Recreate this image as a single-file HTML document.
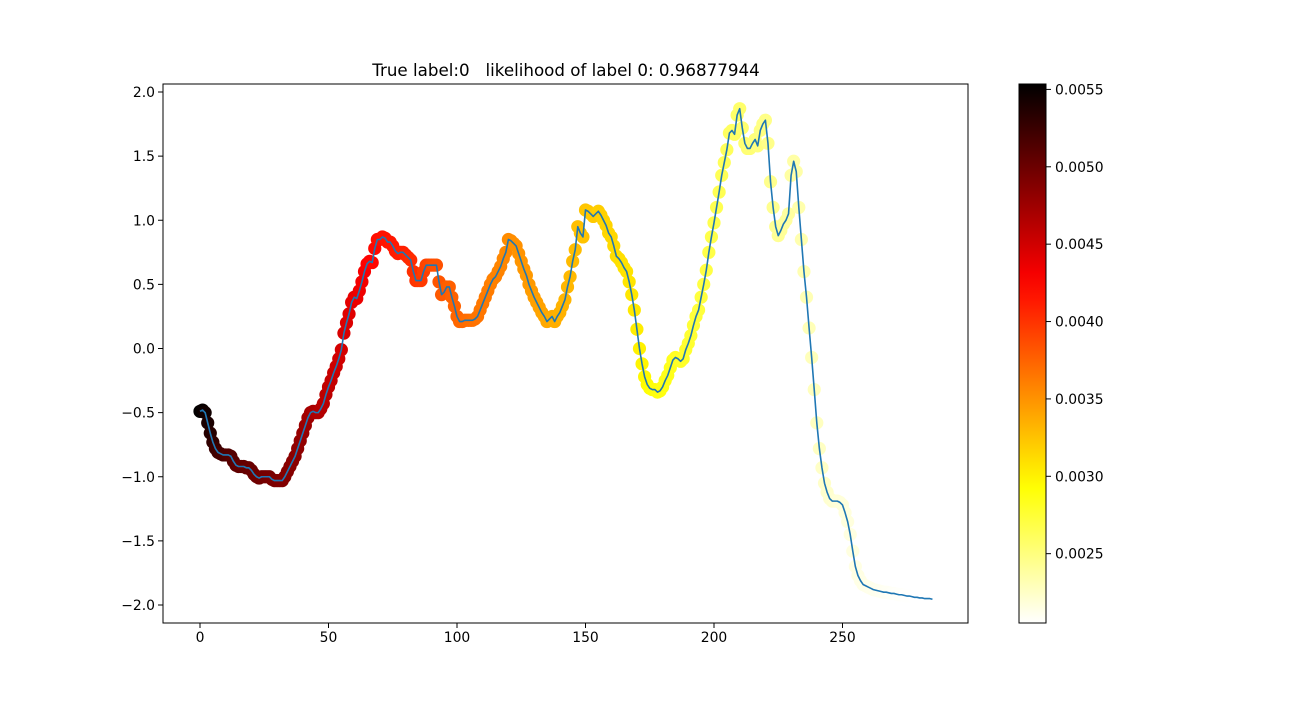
<!DOCTYPE html>
<html><head><meta charset="utf-8"><style>
body{margin:0;background:#fff;}
svg text{font-family:"DejaVu Sans","Liberation Sans",sans-serif;}
</style></head><body>
<svg id="chart" width="1300" height="700" xmlns="http://www.w3.org/2000/svg">
<defs><linearGradient id="cbgrad" x1="0" y1="1" x2="0" y2="0"></linearGradient>
<clipPath id="plotclip"><rect x="163" y="84" width="805" height="539"/></clipPath></defs>
<rect width="1300" height="700" fill="#fff"/>
<text x="566" y="76" font-size="16.7" text-anchor="middle" xml:space="preserve">True label:0   likelihood of label 0: 0.96877944</text>
<g id="scatter" clip-path="url(#plotclip)"></g>
<g id="line" clip-path="url(#plotclip)"></g>
<rect x="163" y="84" width="805" height="539" fill="none" stroke="#000" stroke-width="1"/>
<g id="xaxis"></g><g id="yaxis"></g>
<rect id="cbar" x="1019" y="84" width="27" height="539" fill="url(#cbgrad)" stroke="#000" stroke-width="1"/>
<g id="cbaxis"></g>
</svg>
<script>
const xTicks=[0,50,100,150,200,250];
const yTicks=[-2.0,-1.5,-1.0,-0.5,0.0,0.5,1.0,1.5,2.0];
const cbTicks=[0.0025,0.0030,0.0035,0.0040,0.0045,0.0050,0.0055];
const values=[-0.49,-0.48,-0.5,-0.58,-0.66,-0.73,-0.78,-0.81,-0.82,-0.83,
-0.83,-0.83,-0.84,-0.88,-0.91,-0.92,-0.92,-0.92,-0.93,-0.93,
-0.95,-0.98,-1.0,-1.01,-1.0,-1.0,-1.0,-1.0,-1.02,-1.03,
-1.03,-1.03,-1.03,-1.0,-0.96,-0.92,-0.88,-0.84,-0.78,-0.72,
-0.66,-0.6,-0.54,-0.5,-0.49,-0.5,-0.5,-0.47,-0.43,-0.36,
-0.3,-0.25,-0.19,-0.14,-0.08,-0.01,0.12,0.2,0.27,0.36,
0.4,0.39,0.45,0.52,0.6,0.66,0.68,0.67,0.78,0.85,
0.85,0.87,0.86,0.83,0.83,0.8,0.76,0.74,0.75,0.75,
0.73,0.71,0.69,0.6,0.53,0.53,0.53,0.6,0.65,0.65,
0.65,0.65,0.65,0.52,0.42,0.44,0.48,0.48,0.4,0.33,
0.25,0.21,0.21,0.22,0.22,0.22,0.22,0.23,0.25,0.3,
0.35,0.4,0.45,0.5,0.54,0.56,0.6,0.64,0.7,0.75,
0.85,0.84,0.82,0.8,0.74,0.68,0.62,0.57,0.5,0.45,
0.4,0.36,0.32,0.28,0.25,0.21,0.23,0.25,0.21,0.25,
0.28,0.33,0.38,0.48,0.56,0.68,0.77,0.95,0.9,0.87,
1.08,1.07,1.05,1.03,1.05,1.07,1.04,1.0,0.96,0.9,
0.87,0.8,0.72,0.7,0.67,0.63,0.6,0.52,0.42,0.3,
0.15,0.0,-0.12,-0.22,-0.28,-0.31,-0.32,-0.32,-0.34,-0.33,
-0.3,-0.25,-0.21,-0.15,-0.09,-0.07,-0.08,-0.1,-0.08,-0.01,
0.04,0.1,0.18,0.25,0.3,0.4,0.5,0.61,0.75,0.87,
0.98,1.1,1.22,1.35,1.45,1.55,1.68,1.7,1.67,1.82,
1.87,1.72,1.6,1.56,1.56,1.6,1.63,1.58,1.7,1.75,
1.78,1.6,1.3,1.1,0.95,0.88,0.92,0.97,1.0,1.05,
1.35,1.46,1.38,1.1,0.85,0.6,0.4,0.16,-0.07,-0.32,
-0.58,-0.78,-0.93,-1.05,-1.12,-1.17,-1.19,-1.19,-1.19,-1.2,
-1.22,-1.28,-1.35,-1.45,-1.58,-1.7,-1.77,-1.81,-1.84,-1.85,
-1.86,-1.87,-1.88,-1.885,-1.89,-1.895,-1.9,-1.9,-1.905,-1.91,
-1.91,-1.915,-1.92,-1.92,-1.925,-1.93,-1.93,-1.935,-1.94,-1.94,
-1.945,-1.945,-1.95,-1.95,-1.95,-1.955];
const weights=[.00553,.00550,.00545,.00540,.00535,.00530,.00525,.00522,.00520,.00518,
.00516,.00514,.00512,.00510,.00508,.00506,.00505,.00504,.00503,.00502,
.00501,.00500,.00499,.00498,.00497,.00496,.00495,.00494,.00493,.00492,
.00491,.00490,.00489,.00488,.00487,.00486,.00485,.00484,.00482,.00480,
.00478,.00476,.00474,.00472,.00470,.00468,.00466,.00464,.00462,.00460,
.00458,.00456,.00454,.00452,.00450,.00448,.00446,.00444,.00442,.00440,
.00438,.00436,.00434,.00432,.00430,.00428,.00426,.00424,.00422,.00420,
.00419,.00418,.00417,.00416,.00415,.00414,.00413,.00412,.00411,.00410,
.00408,.00406,.00404,.00402,.00400,.00398,.00396,.00394,.00392,.00390,
.00388,.00386,.00384,.00382,.00380,.00379,.00378,.00377,.00376,.00375,
.00374,.00373,.00372,.00371,.00370,.00369,.00368,.00367,.00366,.00365,
.00364,.00363,.00362,.00361,.00360,.00359,.00358,.00357,.00356,.00355,
.00354,.00353,.00352,.00351,.00350,.00349,.00348,.00347,.00346,.00345,
.00344,.00343,.00342,.00341,.00340,.00339,.00338,.00337,.00336,.00335,
.00334,.00333,.00332,.00331,.00330,.00329,.00328,.00327,.00326,.00325,
.00324,.00323,.00322,.00321,.00320,.00319,.00318,.00317,.00316,.00315,
.00314,.00313,.00312,.00311,.00310,.00309,.00308,.00307,.00306,.00305,
.00303,.00301,.00299,.00297,.00295,.00293,.00291,.00290,.00289,.00288,
.00287,.00286,.00285,.00284,.00283,.00282,.00281,.00280,.00279,.00278,
.00277,.00276,.00275,.00274,.00273,.00272,.00271,.00270,.00269,.00268,
.00267,.00266,.00265,.00264,.00263,.00262,.00261,.00260,.00259,.00258,
.00257,.00256,.00255,.00254,.00253,.00252,.00251,.00250,.00249,.00248,
.00247,.00246,.00245,.00244,.00243,.00242,.00241,.00240,.00239,.00238,
.00237,.00236,.00235,.00234,.00233,.00232,.00231,.00230,.00229,.00228,
.00227,.00226,.00225,.00224,.00223,.00222,.00221,.00220,.00219,.00218,
.00218,.00217,.00217,.00216,.00216,.00215,.00215,.00214,.00214,.00213,
.00213,.00212,.00212,.00211,.00211,.00210,.00210,.00209,.00209,.00208,
.00208,.00207,.00207,.00207,.00206,.00206,.00206,.00206,.00205,.00205,
.00205,.00205,.00205,.00205,.00205,.00205];
const cMin=0.002052, cMax=0.005535;

const NS="http://www.w3.org/2000/svg";
function xS(v){return 200+v*(128.5/50);}
function yS(v){return 348.5-v*128.25;}
function cS(v){return 623-(v-cMin)/(cMax-cMin)*539;}
function clamp(a){return Math.max(0,Math.min(1,a));}
function hotR(w){const t=1-clamp((w-cMin)/(cMax-cMin));
 const r=clamp(t/0.365),g=clamp((t-0.365)/0.381),b=clamp((t-0.746)/0.254);
 return `rgb(${Math.round(r*255)},${Math.round(g*255)},${Math.round(b*255)})`;}
function mk(tag,attrs,parent){const e=document.createElementNS(NS,tag);for(const k in attrs)e.setAttribute(k,attrs[k]);parent.appendChild(e);return e;}

const sc=document.getElementById('scatter');
values.forEach((v,i)=>{
 const c=mk('circle',{cx:xS(i),cy:yS(v),r:6.6,fill:hotR(weights[i])},sc);
 
 
});
const ln=document.getElementById('line');
const p=mk('path',{d:values.map((v,i)=>(i?'L':'M')+xS(i).toFixed(2)+','+yS(v).toFixed(2)).join(''),fill:'none',stroke:'#1f77b4','stroke-width':1.6,'stroke-linejoin':'round'},ln);



const xa=document.getElementById('xaxis');
xTicks.forEach(t=>{
 const l=mk('line',{x1:xS(t),x2:xS(t),y1:623,y2:628,stroke:'#000'},xa);
 
 
 const tx=mk('text',{x:xS(t),y:642,'font-size':13.9,'text-anchor':'middle'},xa);
 tx.textContent=String(t);
 
 
});
const ya=document.getElementById('yaxis');
yTicks.forEach(t=>{
 const l=mk('line',{x1:158,x2:163,y1:yS(t),y2:yS(t),stroke:'#000'},ya);
 
 
 const tx=mk('text',{x:155,y:yS(t)+5,'font-size':13.9,'text-anchor':'end'},ya);
 tx.textContent=(t<0?'\u2212':'')+Math.abs(t).toFixed(1);
 
 
});
const g=document.getElementById('cbgrad');
for(let k=0;k<=20;k++){const w=cMin+(cMax-cMin)*k/20;mk('stop',{offset:(k*5)+'%','stop-color':hotR(w)},g);}
const ca=document.getElementById('cbaxis');
cbTicks.forEach(t=>{
 const l=mk('line',{x1:1046,x2:1051,y1:cS(t),y2:cS(t),stroke:'#000'},ca);
 
 
 const tx=mk('text',{x:1055,y:cS(t)+5,'font-size':13.9},ca);
 tx.textContent=t.toFixed(4);
 
 
});
</script>
</body></html>
